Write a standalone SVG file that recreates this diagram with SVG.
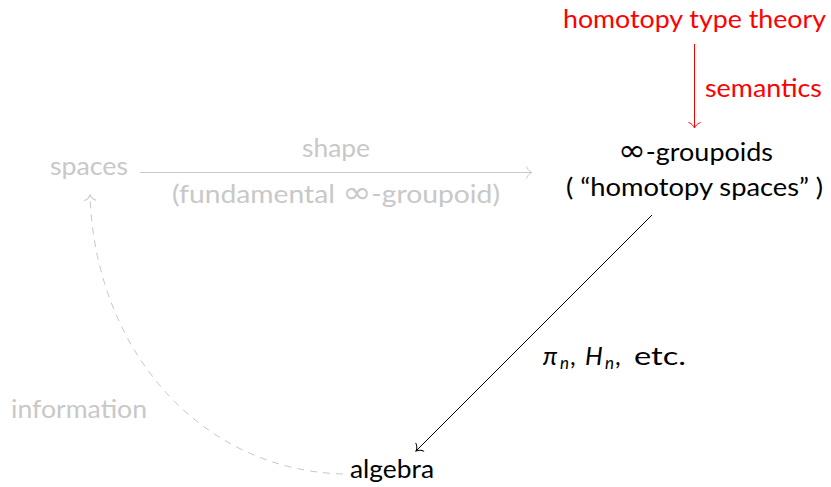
<svg xmlns="http://www.w3.org/2000/svg" width="831" height="487" viewBox="0 0 831 487">
<style>
text{font-family:Lato,"Liberation Sans","DejaVu Sans",sans-serif;font-size:25px;font-weight:400}
.red{fill:#ff0000}
.gray{fill:#c8c8c8}
.blk{fill:#000}
.inf{font-family:"DejaVu Sans",sans-serif;font-weight:normal;font-size:31px}
.it{font-style:italic}
.sub{font-size:17px;font-style:italic}
.edge{fill:none;stroke-width:1}
</style>
<defs>
<marker id="toR" viewBox="-8 -8 10 16" refX="0" refY="0" markerWidth="10" markerHeight="16" markerUnits="userSpaceOnUse" orient="auto"><path d="M -5.5 -6 C -4.5 -2.5 -1.5 -0.6 0 0 C -1.5 0.6 -4.5 2.5 -5.5 6" fill="none" stroke="#ff0000" stroke-width="1"/></marker>
<marker id="toK" viewBox="-8 -8 10 16" refX="0" refY="0" markerWidth="10" markerHeight="16" markerUnits="userSpaceOnUse" orient="auto"><path d="M -5.5 -6 C -4.5 -2.5 -1.5 -0.6 0 0 C -1.5 0.6 -4.5 2.5 -5.5 6" fill="none" stroke="#000" stroke-width="1"/></marker>
<marker id="toG" viewBox="-8 -8 10 16" refX="0" refY="0" markerWidth="10" markerHeight="16" markerUnits="userSpaceOnUse" orient="auto"><path d="M -5.5 -6 C -4.5 -2.5 -1.5 -0.6 0 0 C -1.5 0.6 -4.5 2.5 -5.5 6" fill="none" stroke="#c8c8c8" stroke-width="1"/></marker>
</defs>

<g id="connectors">
  <g id="edge-semantics">
    <line class="edge" x1="694.5" y1="44" x2="694.5" y2="128" stroke="#ff0000" marker-end="url(#toR)"/>
    <text class="red" x="705" y="97" textLength="117" lengthAdjust="spacingAndGlyphs">semantics</text>
  </g>
  <g id="edge-shape">
    <line class="edge" x1="140" y1="172.5" x2="532" y2="172.5" stroke="#c8c8c8" marker-end="url(#toG)"/>
    <text class="gray" x="302" y="157" textLength="68" lengthAdjust="spacingAndGlyphs">shape</text>
    <text class="gray" x="172" y="203" textLength="328" lengthAdjust="spacingAndGlyphs">(fundamental <tspan class="inf">∞</tspan>-groupoid)</text>
  </g>
  <g id="edge-homotopy">
    <line class="edge" x1="652" y1="215" x2="416" y2="451" stroke="#000" marker-end="url(#toK)"/>
    <text class="blk"><tspan class="it" x="543" y="365">π</tspan><tspan class="sub" x="560" y="369">n</tspan><tspan x="570" y="365">,</tspan><tspan class="it" x="585" y="365">H</tspan><tspan class="sub" x="605" y="369">n</tspan><tspan x="615" y="365">,</tspan><tspan x="634" y="365" textLength="52" lengthAdjust="spacingAndGlyphs">etc.</tspan></text>
  </g>
  <g id="edge-information">
    <path class="edge" d="M 343 474 C 200 470, 95 350, 90 195" stroke="#c8c8c8" stroke-dasharray="7 6" marker-end="url(#toG)"/>
    <text class="gray" x="11" y="418" textLength="136" lengthAdjust="spacingAndGlyphs">information</text>
  </g>
</g>

<g id="hott">
  <text class="red" x="563" y="28" textLength="263" lengthAdjust="spacingAndGlyphs">homotopy type theory</text>
</g>
<g id="groupoids">
  <text class="blk" x="618" y="161" textLength="155" lengthAdjust="spacingAndGlyphs"><tspan class="inf">∞</tspan>-groupoids</text>
  <text class="blk" x="566" y="196" textLength="257" lengthAdjust="spacingAndGlyphs">( “homotopy spaces” )</text>
</g>
<g id="spaces">
  <text class="gray" x="50" y="175" textLength="78" lengthAdjust="spacingAndGlyphs">spaces</text>
</g>
<g id="algebra">
  <text class="blk" x="350" y="478" textLength="84" lengthAdjust="spacingAndGlyphs">algebra</text>
</g>
</svg>
